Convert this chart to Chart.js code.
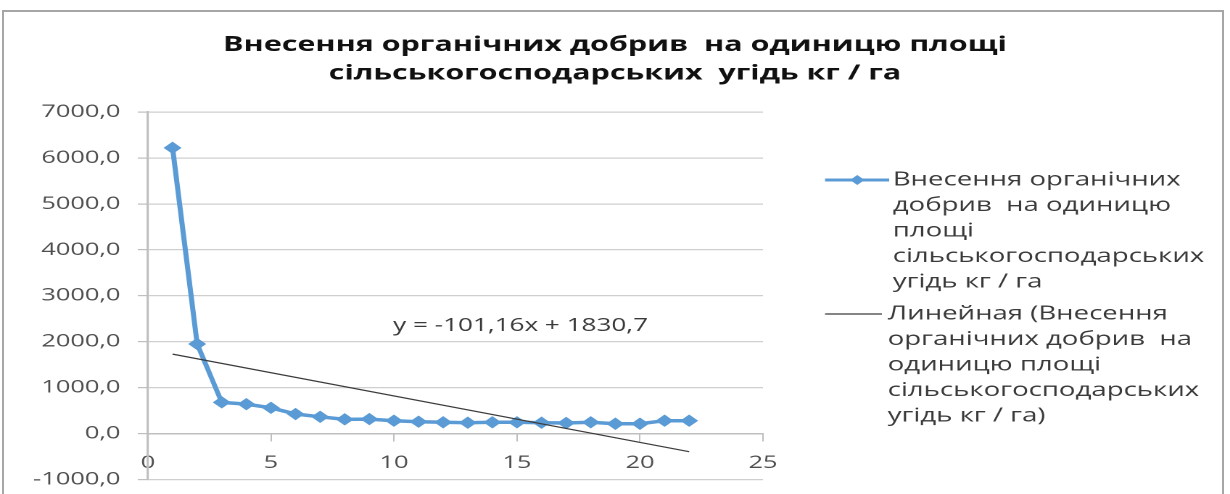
<!DOCTYPE html>
<html>
<head>
<meta charset="utf-8">
<script src="https://cdn.jsdelivr.net/npm/chart.js@4.4.1/dist/chart.umd.min.js"></script>
<style>
  html, body { margin: 0; padding: 0; background: #fff; overflow: hidden; }
  #frame {
    position: absolute; left: 2px; top: 10px; width: 1222px; height: 520px;
    border: 2px solid #a6a6a6; box-sizing: border-box;
  }
  /* the chart is laid out on a narrower canvas and widened horizontally */
  #wrap {
    position: absolute; left: 0; top: 0; width: 848px; height: 494px;
    transform: scaleX(1.4505); transform-origin: 0 0;
  }
</style>
</head>
<body>
<div id="frame"></div>
<div id="wrap"><canvas id="c"></canvas></div>
<script>
// Series: organic fertiliser applied per unit of farmland, kg / ha
const periods = [1, 2, 3, 4, 5, 6, 7, 8, 9, 10, 11, 12, 13, 14, 15, 16, 17, 18, 19, 20, 21, 22];
const fertiliserKgHa = [6220, 1950, 680, 640, 560, 425, 365, 310, 315, 280, 258, 245,
                        236, 245, 245, 236, 230, 245, 214, 214, 280, 280];

// Linear trend coefficients, as printed in the equation label
const trendSlope = -101.16;
const trendIntercept = 1830.7;

// Axis ticks
const xTicks = [0, 5, 10, 15, 20, 25];
const yTicks = [-1000, 0, 1000, 2000, 3000, 4000, 5000, 6000, 7000];

// Texts
const titleLines = ['Внесення органічних добрив  на одиницю площі',
                    'сільськогосподарських  угідь кг / га'];
const seriesLegendLines = ['Внесення органічних', 'добрив  на одиницю', 'площі',
                           'сільськогосподарських', 'угідь кг / га'];
const trendLegendLines = ['Линейная (Внесення', 'органічних добрив  на', 'одиницю площі',
                          'сільськогосподарських', 'угідь кг / га)'];

const fmt = v => v.toFixed(1).replace('.', ',');
const trendLabel = 'y = ' + String(trendSlope).replace('.', ',') + 'x + ' + String(trendIntercept).replace('.', ',');

const BLUE = '#5B9BD5';
const TREND = '#3c3c3c';
const FONT = "'Open Sans', 'Noto Sans', sans-serif";

const seriesPoints = periods.map((p, i) => ({ x: p, y: fertiliserKgHa[i] }));
const trendEnds = [periods[0], periods[periods.length - 1]];
const trendPoints = trendEnds.map(x => ({ x, y: trendSlope * x + trendIntercept }));

// Title, legend and equation label drawn on the canvas
const decorations = {
  id: 'decorations',
  afterDraw(chart) {
    const ctx = chart.ctx;
    ctx.save();
    ctx.textBaseline = 'middle';

    // title
    ctx.fillStyle = '#111';
    ctx.textAlign = 'center';
    ctx.font = 'bold 21px ' + FONT;
    titleLines.forEach((t, i) => ctx.fillText(t, 424, 45 + i * 28.5));

    // legend
    ctx.textAlign = 'left';
    ctx.font = '19px ' + FONT;
    const lh = 25.5;
    const textX = 615.5;

    const y1 = 180;
    ctx.strokeStyle = BLUE; ctx.lineWidth = 3;
    ctx.beginPath(); ctx.moveTo(568.8, y1); ctx.lineTo(613, y1); ctx.stroke();
    ctx.fillStyle = BLUE;
    ctx.beginPath();
    const mx = 591, r = 5;
    ctx.moveTo(mx - r, y1); ctx.lineTo(mx, y1 - r); ctx.lineTo(mx + r, y1); ctx.lineTo(mx, y1 + r);
    ctx.closePath(); ctx.fill();
    ctx.fillStyle = '#3a3a3a';
    seriesLegendLines.forEach((t, i) => ctx.fillText(t, textX, y1 + i * lh));

    const y2 = 314;
    ctx.strokeStyle = TREND; ctx.lineWidth = 1.2;
    ctx.beginPath(); ctx.moveTo(568.8, y2); ctx.lineTo(608, y2); ctx.stroke();
    trendLegendLines.forEach((t, i) => ctx.fillText(t, 612, y2 + i * lh));

    // trend equation
    ctx.font = '18px ' + FONT;
    ctx.fillStyle = '#3a3a3a';
    ctx.fillText(trendLabel, 271, 326);
    ctx.restore();
  }
};

new Chart(document.getElementById('c'), {
  type: 'line',
  data: {
    datasets: [
      {
        label: titleLines.join(' '),
        data: seriesPoints,
        borderColor: BLUE,
        backgroundColor: BLUE,
        borderWidth: 3.5,
        pointStyle: 'rectRot',
        pointRadius: 5.5,
        pointBorderWidth: 1,
        pointBorderColor: BLUE,
        pointBackgroundColor: BLUE,
        tension: 0,
        order: 1
      },
      {
        label: trendLegendLines.join(' '),
        data: trendPoints,
        borderColor: TREND,
        borderWidth: 1.2,
        pointRadius: 0,
        tension: 0,
        order: 0
      }
    ]
  },
  plugins: [decorations],
  options: {
    responsive: true,
    maintainAspectRatio: false,
    animation: false,
    devicePixelRatio: 2,
    layout: { padding: { left: 0, top: 112, right: 322, bottom: 14.5 } },
    plugins: { legend: { display: false }, title: { display: false }, tooltip: { enabled: false } },
    scales: {
      x: {
        type: 'linear',
        position: { y: 0 },
        min: 0, max: 25,
        afterBuildTicks: s => { s.ticks = xTicks.map(v => ({ value: v })); },
        afterFit: s => { s.height = 0; },
        grid: { drawOnChartArea: false, drawTicks: true, tickLength: 7, tickColor: '#bfbfbf', lineWidth: 1 },
        border: { display: true, color: '#bfbfbf', width: 1.5 },
        ticks: { color: '#4f4f4f', font: { family: FONT, size: 17.5 }, padding: 12, maxRotation: 0 }
      },
      y: {
        type: 'linear',
        min: -1000, max: 7000,
        afterBuildTicks: s => { s.ticks = yTicks.map(v => ({ value: v })); },
        // fixed axis width; the outer padding already leaves room for the end labels
        afterFit: s => { s.width = 102; s.paddingTop = 0; s.paddingBottom = 0; },
        grid: { color: '#cfcfcf', lineWidth: 1.2, drawTicks: true, tickLength: 7, tickColor: '#bfbfbf' },
        border: { display: true, color: '#bfbfbf', width: 1.6 },
        ticks: { color: '#4f4f4f', font: { family: FONT, size: 17.5 }, padding: 12, callback: v => fmt(v) }
      }
    }
  }
});
</script>
</body>
</html>
